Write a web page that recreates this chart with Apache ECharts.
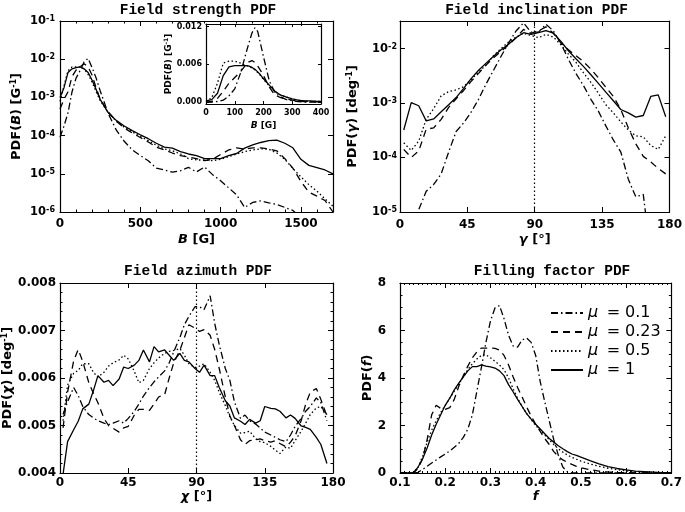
<!DOCTYPE html>
<html><head><meta charset="utf-8">
<script src="https://cdn.jsdelivr.net/npm/echarts@6/dist/echarts.min.js"></script>
<style>html,body{margin:0;padding:0;background:#fff}#c{width:685px;height:512px}</style>
</head><body><div id="c"></div>
<script>
// ---------- legend ----------
const muValues = ['0.1', '0.23', '0.5', '1'];
const legendNames = muValues.map(v => 'μ = ' + v);

// ---------- Panel 1: field strength PDF (log y) ----------
const bField = [0,25,50,75,100,125,150,175,200,225,250,300,350,400,450,500,550,600,650,700,750,800,850,900,950,1000,1050,1100,1150,1200,1250,1300,1350,1400,1450,1500,1550,1600,1650,1700];
const strength01 = [9.1e-5,1.78e-4,4.0e-4,1.41e-3,3.2e-3,5.0e-3,8.5e-3,1.05e-2,6.0e-3,3.2e-3,1.5e-3,3.8e-4,1.41e-4,7.1e-5,4.2e-5,3.0e-5,2.2e-5,1.41e-5,1.26e-5,1.1e-5,1.2e-5,1.48e-5,1.12e-5,1.51e-5,9.5e-6,6.6e-6,4.3e-6,2.8e-6,1.32e-6,1.78e-6,1.95e-6,1.74e-6,1.58e-6,1.32e-6,1.1e-6,7.1e-7,4.0e-7,2.5e-7,1.6e-7,1.0e-7];
const strength023 = [5.0e-4,8.9e-4,1.41e-3,3.5e-3,5.2e-3,6.3e-3,7.6e-3,6.3e-3,3.8e-3,1.78e-3,8.9e-4,4.2e-4,2.4e-4,1.58e-4,1.17e-4,8.9e-5,6.8e-5,5.0e-5,4.2e-5,3.5e-5,3.0e-5,2.75e-5,2.5e-5,2.2e-5,2.4e-5,3.2e-5,4.2e-5,4.8e-5,4.4e-5,4.8e-5,4.8e-5,4.5e-5,4.0e-5,2.5e-5,1.41e-5,6.3e-6,3.3e-6,2.6e-6,2.0e-6,1.0e-6];
const strength05 = [7.9e-4,2.0e-3,5.0e-3,6.3e-3,6.3e-3,6.3e-3,5.6e-3,4.0e-3,2.5e-3,1.41e-3,8.3e-4,4.0e-4,2.4e-4,1.66e-4,1.26e-4,9.5e-5,7.4e-5,5.6e-5,4.5e-5,4.0e-5,3.3e-5,2.5e-5,2.3e-5,2.3e-5,2.2e-5,2.4e-5,2.8e-5,3.3e-5,3.8e-5,4.2e-5,4.5e-5,4.4e-5,3.5e-5,2.4e-5,1.38e-5,8.3e-6,5.2e-6,3.5e-6,2.2e-6,1.41e-6];
const strength1 = [1.0e-3,1.8e-3,4.5e-3,5.6e-3,6.0e-3,6.3e-3,5.6e-3,4.5e-3,2.8e-3,1.6e-3,8.9e-4,4.0e-4,2.5e-4,1.78e-4,1.35e-4,1.05e-4,8.3e-5,6.3e-5,5.0e-5,4.7e-5,3.8e-5,3.3e-5,3.0e-5,2.5e-5,2.5e-5,2.5e-5,3.0e-5,3.4e-5,4.7e-5,5.75e-5,6.6e-5,7.4e-5,7.6e-5,6.3e-5,4.8e-5,2.4e-5,1.66e-5,1.45e-5,1.26e-5,1.0e-5];

// ---------- Inset: field strength PDF (linear) ----------
const bInset = [0,20,40,60,80,100,120,140,150,160,170,180,190,200,220,240,260,280,300,320,340,360,380,400];
const inset01 = [0,0,0.0001,0.0003,0.001,0.0021,0.0046,0.0079,0.0095,0.011,0.0118,0.0112,0.0092,0.0072,0.0034,0.0015,0.0008,0.0004,0.0002,0.0001,0,0,0,0];
const inset023 = [0,0.0001,0.0006,0.0017,0.003,0.0039,0.0048,0.006,0.0064,0.0066,0.0063,0.0057,0.005,0.0042,0.0024,0.0011,0.0007,0.0005,0.0003,0.0002,0.0001,0.0001,0.0001,0];
const inset05 = [0.0001,0.0007,0.003,0.0062,0.0065,0.0065,0.0062,0.0058,0.0057,0.0054,0.0051,0.0047,0.0042,0.0036,0.0026,0.0017,0.0011,0.0008,0.0005,0.0003,0.0002,0.0001,0.0001,0.0001];
const inset1 = [0.0002,0.0004,0.0014,0.0042,0.0056,0.0058,0.0058,0.0058,0.0057,0.0055,0.0052,0.0048,0.0043,0.0037,0.0027,0.0017,0.0011,0.0008,0.0005,0.0003,0.0002,0.0002,0.0001,0.0001];
const insetYTicks = [0, 0.006, 0.012];

// ---------- Panel 2: field inclination PDF (log y) ----------
const gammaDeg = [2.5,7.5,12.5,17.5,22.5,27.5,32.5,37.5,42.5,47.5,52.5,57.5,62.5,67.5,72.5,77.5,82.5,87.5,92.5,97.5,102.5,107.5,112.5,117.5,122.5,127.5,132.5,137.5,142.5,147.5,152.5,157.5,162.5,167.5,172.5,177.5];
const incl01 = [3e-7,2.5e-6,1.1e-5,2.4e-5,3.2e-5,5.0e-5,1.26e-4,3.0e-4,4.3e-4,6.8e-4,1.17e-3,2.24e-3,4.0e-3,7.2e-3,1.26e-2,2.1e-2,2.95e-2,2.0e-2,2.0e-2,2.8e-2,2.1e-2,1.23e-2,6.3e-3,3.5e-3,2.1e-3,1.17e-3,7.1e-4,3.8e-4,2.1e-4,1.26e-4,4.0e-5,1.9e-5,2.1e-5,1.6e-6,3e-7,1e-7];
const incl023 = [1.41e-4,1.0e-4,1.32e-4,3.3e-4,3.5e-4,5.0e-4,8.3e-4,1.2e-3,1.7e-3,2.5e-3,3.5e-3,5.0e-3,6.8e-3,8.9e-3,1.17e-2,1.58e-2,2.24e-2,1.9e-2,2.1e-2,2.5e-2,1.9e-2,1.26e-2,9.5e-3,7.4e-3,5.75e-3,4.2e-3,2.9e-3,1.95e-3,1.32e-3,7.6e-4,3.5e-4,1.78e-4,1.05e-4,8.3e-5,6.3e-5,5.0e-5];
const incl05 = [1.86e-4,1.35e-4,2.0e-4,5.0e-4,7.9e-4,1.35e-3,1.62e-3,1.74e-3,2.0e-3,2.7e-3,3.7e-3,5.0e-3,7.4e-3,1.0e-2,1.32e-2,1.62e-2,1.9e-2,1.74e-2,1.58e-2,1.82e-2,1.62e-2,1.17e-2,7.9e-3,5.6e-3,3.6e-3,2.4e-3,1.51e-3,9.3e-4,6.6e-4,4.5e-4,3.2e-4,2.5e-4,2.4e-4,1.66e-4,1.41e-4,2.5e-4];
const incl1 = [3.2e-4,1.02e-3,8.9e-4,4.7e-4,5.1e-4,6.9e-4,9.3e-4,1.26e-3,1.86e-3,2.8e-3,4.0e-3,5.4e-3,7.2e-3,9.5e-3,1.2e-2,1.58e-2,1.95e-2,1.82e-2,1.95e-2,2.14e-2,1.91e-2,1.35e-2,9.1e-3,6.5e-3,4.7e-3,3.3e-3,2.3e-3,1.58e-3,1.1e-3,7.6e-4,6.6e-4,5.5e-4,5.9e-4,1.32e-3,1.41e-3,5.6e-4];

// ---------- Panel 3: field azimuth PDF ----------
const chiDeg = [2,5,9,12,15,19,22,25,29,32,35,39,42,45,49,52,55,59,62,65,69,72,75,79,82,85,89,92,95,99,102,105,109,112,115,119,122,125,129,132,135,139,142,145,149,152,155,159,162,165,169,172,176];
const azim01 = [0.00523,0.0055,0.0058,0.00563,0.0054,0.00523,0.00516,0.0051,0.00505,0.00502,0.00505,0.0051,0.00505,0.00515,0.0053,0.00545,0.00562,0.0058,0.00592,0.00602,0.00615,0.00632,0.00655,0.00685,0.00712,0.0073,0.0075,0.0075,0.00744,0.00773,0.00715,0.0067,0.0062,0.00595,0.0055,0.00515,0.00522,0.0051,0.00503,0.00495,0.00486,0.0048,0.00475,0.0047,0.00466,0.0048,0.00498,0.00515,0.0053,0.0054,0.00558,0.00548,0.0051];
const azim023 = [0.00495,0.0057,0.00636,0.0066,0.00635,0.0059,0.00568,0.00548,0.00515,0.005,0.00494,0.00486,0.00495,0.00498,0.00522,0.00534,0.00534,0.00532,0.00545,0.0056,0.00565,0.006,0.00632,0.00658,0.00685,0.00712,0.00705,0.00698,0.00702,0.0069,0.0066,0.0062,0.0056,0.0052,0.005,0.0047,0.0046,0.00468,0.0047,0.00472,0.00468,0.00465,0.00468,0.00462,0.00455,0.00465,0.00478,0.0051,0.00545,0.0057,0.00578,0.00555,0.0052];
const azim05 = [0.0051,0.00585,0.0061,0.00616,0.0063,0.0063,0.00612,0.00602,0.00612,0.00625,0.00632,0.00638,0.00648,0.0064,0.00614,0.0059,0.00595,0.0062,0.00632,0.00642,0.00652,0.00656,0.00658,0.00662,0.00648,0.0063,0.00622,0.00625,0.0063,0.00612,0.00595,0.0057,0.00542,0.00518,0.005,0.00484,0.00485,0.00488,0.00472,0.00466,0.00464,0.00456,0.00448,0.00441,0.00455,0.00452,0.00468,0.00488,0.00505,0.00523,0.00537,0.0054,0.00523];
const azim1 = [0.00397,0.00466,0.00491,0.00509,0.00535,0.00545,0.00573,0.00605,0.00591,0.00595,0.00584,0.00598,0.00623,0.0062,0.00627,0.00637,0.00659,0.00634,0.00666,0.00655,0.00659,0.00648,0.00637,0.00652,0.00637,0.00634,0.0062,0.00612,0.00627,0.00605,0.00605,0.0058,0.00552,0.00541,0.00516,0.00509,0.00502,0.00513,0.00505,0.0051,0.0054,0.00536,0.00535,0.0053,0.00516,0.00522,0.00515,0.00499,0.00496,0.00492,0.00475,0.0046,0.0042];

// ---------- Panel 4: filling factor PDF ----------
const fillF = [0.10,0.12,0.13,0.14,0.15,0.16,0.17,0.18,0.19,0.20,0.21,0.22,0.23,0.24,0.25,0.26,0.27,0.28,0.29,0.30,0.31,0.32,0.33,0.34,0.35,0.36,0.37,0.38,0.39,0.40,0.41,0.42,0.43,0.44,0.45,0.46,0.47,0.48,0.49,0.50,0.52,0.54,0.56,0.58,0.60,0.62,0.64,0.66,0.68,0.70];
const fill01 = [0,0,0,0.03,0.15,0.28,0.42,0.55,0.68,0.8,0.93,1.08,1.25,1.5,1.85,2.45,3.45,4.45,5.5,6.4,6.95,7.05,6.5,5.8,5.35,5.3,5.6,5.68,5.5,4.95,3.85,3.0,2.2,1.4,0.75,0.25,0.05,0,0,0,0,0,0,0,0,0,0,0,0,0];
const fill023 = [0,0,0,0.2,0.6,1.4,2.45,2.85,2.72,2.68,2.75,3.1,3.65,4.1,4.5,4.85,5.1,5.26,5.26,5.26,5.25,5.18,4.95,4.55,4.05,3.6,3.2,2.78,2.4,2.05,1.75,1.45,1.2,0.9,0.7,0.55,0.45,0.36,0.28,0.22,0.14,0.08,0.04,0.02,0.01,0,0,0,0,0];
const fill05 = [0,0,0.03,0.25,0.7,1.3,1.8,2.2,2.55,2.85,3.15,3.45,3.75,4.05,4.35,4.6,4.8,4.95,4.98,4.85,4.7,4.55,4.35,4.0,3.55,3.15,2.8,2.5,2.25,2.0,1.8,1.6,1.4,1.2,1.02,0.88,0.76,0.66,0.58,0.5,0.38,0.28,0.2,0.14,0.09,0.06,0.04,0.02,0.01,0];
const fill1 = [0,0,0.02,0.25,0.6,1.05,1.6,2.05,2.45,2.85,3.15,3.5,3.78,4.05,4.3,4.48,4.48,4.55,4.5,4.47,4.42,4.3,4.1,3.72,3.42,3.1,2.8,2.5,2.27,2.05,1.85,1.65,1.45,1.3,1.15,1.02,0.9,0.8,0.74,0.67,0.52,0.38,0.27,0.19,0.13,0.08,0.06,0.04,0.02,0.01];

// ---------- styles ----------
const FONT = 'DejaVu Sans';
const LINE_TYPES = [[7, 3, 1.5, 3], [7, 5], [1.5, 2.5], 'solid'];
const supOf = e => (e < 0 ? '-' : '') + Math.abs(e);
function logFmt(v) {
  const l = Math.log10(v), e = Math.round(l);
  if (Math.abs(l - e) > 1e-6) return '';
  return '{b|10}{s|' + supOf(e) + '}';
}
const logRich = (fs) => ({
  b: {fontFamily: FONT, fontWeight: 'bold', fontSize: fs, color: '#000'},
  s: {fontFamily: FONT, fontWeight: 'bold', fontSize: Math.round(fs * 0.68), color: '#000', verticalAlign: 'top'}
});
const lbl = o => Object.assign({color: '#000', fontFamily: FONT, fontWeight: 'bold', fontSize: 12}, o);
function nameStyle(size) {
  return {
    color: '#000', fontFamily: FONT, fontWeight: 'bold', fontSize: size,
    rich: {
      i: {fontStyle: 'italic', fontWeight: 'bold', fontFamily: FONT, fontSize: size, color: '#000'},
      s: {fontWeight: 'bold', fontFamily: FONT, fontSize: Math.round(size * 0.65), color: '#000', verticalAlign: 'top'}
    }
  };
}
function mkAxis(gi, pos, sc, show, nm) {
  const a = {
    type: sc.type || 'value', gridIndex: gi, position: pos, min: sc.min, max: sc.max,
    axisLine: {show: true, onZero: false, lineStyle: {color: '#000', width: 1.2}},
    axisTick: {show: true, inside: true, length: sc.tickLen || 5, lineStyle: {color: '#000', width: 1}},
    minorTick: {show: !!sc.minor, splitNumber: sc.minor || 5, length: sc.minorLen || 2.5, lineStyle: {color: '#000', width: 1}},
    splitLine: {show: false}, minorSplitLine: {show: false},
    axisLabel: show ? Object.assign({show: true}, sc.label) : {show: false}
  };
  if (sc.interval != null) a.interval = sc.interval;
  if (sc.splitNumber != null) a.splitNumber = sc.splitNumber;
  if (sc.custom) { a.axisTick.customValues = sc.custom; if (show) a.axisLabel.customValues = sc.custom; }
  if (show && nm) {
    a.name = nm.text; a.nameLocation = 'middle'; a.nameGap = nm.gap;
    a.nameTextStyle = nameStyle(nm.size || 13);
  }
  return a;
}
function panelSeries(prefix, xs, ysList, xi, yi, extra) {
  return ysList.map((ys, k) => Object.assign({
    type: 'line', name: prefix ? prefix + k : legendNames[k],
    xAxisIndex: xi, yAxisIndex: yi,
    data: xs.map((x, i) => [x, ys[i]]),
    symbol: 'none', showSymbol: false, silent: true, animation: false, clip: true,
    lineStyle: {color: '#000', width: 1.3, type: LINE_TYPES[k]},
    itemStyle: {color: '#000'}
  }, (k === 3 && extra) ? extra : {}));
}
const vLine90 = {markLine: {silent: true, symbol: 'none', animation: false, label: {show: false},
  lineStyle: {color: '#000', type: [1.5, 2.5], width: 1.2}, data: [{xAxis: 90}]}};

// ---------- scales ----------
const s1x = {min: 0, max: 1700, interval: 500, minor: 5, label: lbl({margin: 6, showMaxLabel: false, formatter: v => String(v)})};
const s1y = {type: 'log', min: 1e-6, max: 0.1, splitNumber: 5, label: lbl({margin: 5, formatter: logFmt, rich: logRich(11.5)})};
const s2x = {min: 0, max: 180, interval: 45, label: lbl({margin: 7})};
const s2y = {type: 'log', min: 1e-5, max: 0.032, splitNumber: 4, label: lbl({margin: 3, formatter: logFmt, rich: logRich(11.5)})};
const s3x = {min: 0, max: 180, interval: 45, label: lbl({margin: 4})};
const s3y = {min: 0.004, max: 0.008, interval: 0.001, minor: 5, label: lbl({margin: 4})};
const s4x = {min: 0.1, max: 0.7, interval: 0.1, minor: 10, minorLen: 2, label: lbl({margin: 4})};
const s4y = {min: 0, max: 8, interval: 2, minor: 4, label: lbl({margin: 14})};
const sIx = {min: 0, max: 400, interval: 100, tickLen: 3, label: lbl({margin: 5, fontSize: 8})};
const sIy = {min: -0.0003, max: 0.0124, custom: insetYTicks, tickLen: 3, label: lbl({margin: 4, fontSize: 8, formatter: v => v.toFixed(3)})};

const titleStyle = (text, x, y) => ({type: 'text', x: x, y: y, silent: true,
  style: {text: text, fill: '#000', fontFamily: 'Liberation Mono', fontSize: 14.5, fontWeight: 'bold',
    align: 'center', verticalAlign: 'middle', textAlign: 'center', textVerticalAlign: 'middle'}});

const option = {
  backgroundColor: '#fff',
  animation: false,
  textStyle: {fontFamily: FONT},
  grid: [
    {left: 60, top: 21, width: 273, height: 191},
    {left: 400, top: 21, width: 273, height: 191},
    {left: 60, top: 283, width: 273, height: 190},
    {left: 400, top: 283, width: 273, height: 190},
    {left: 206, top: 24, width: 115, height: 80}
  ],
  xAxis: [
    mkAxis(0, 'bottom', s1x, true, {text: '{i|B} [G]', gap: 21}),
    mkAxis(0, 'top', s1x, false),
    mkAxis(1, 'bottom', s2x, true, {text: '{i|γ} [°]', gap: 21}),
    mkAxis(1, 'top', s2x, false),
    mkAxis(2, 'bottom', s3x, true, {text: '{i|χ} [°]', gap: 13}),
    mkAxis(2, 'top', s3x, false),
    mkAxis(3, 'bottom', s4x, true, {text: '{i|f}', gap: 14}),
    mkAxis(3, 'top', s4x, false),
    mkAxis(4, 'bottom', sIx, true, {text: '{i|B} [G]', gap: 17, size: 9}),
    mkAxis(4, 'top', sIx, false)
  ],
  yAxis: [
    mkAxis(0, 'left', s1y, true, {text: 'PDF({i|B}) [G{s|-1}]', gap: 37}),
    mkAxis(0, 'right', s1y, false),
    mkAxis(1, 'left', s2y, true, {text: 'PDF({i|γ}) [deg{s|-1}]', gap: 41}),
    mkAxis(1, 'right', s2y, false),
    mkAxis(2, 'left', s3y, true, {text: 'PDF({i|χ}) [deg{s|-1}]', gap: 42}),
    mkAxis(2, 'right', s3y, false),
    mkAxis(3, 'left', s4y, true, {text: 'PDF({i|f})', gap: 21}),
    mkAxis(3, 'right', s4y, false),
    mkAxis(4, 'left', sIy, true, {text: 'PDF({i|B}) [G{s|-1}]', gap: 29, size: 9}),
    mkAxis(4, 'right', sIy, false)
  ],
  legend: {
    data: legendNames, orient: 'vertical', left: 550, top: 305, padding: 0,
    itemWidth: 32, itemHeight: 14, itemGap: 3, selectedMode: false,
    itemStyle: {opacity: 0, borderWidth: 0},
    textStyle: {color: '#000', fontFamily: FONT, fontSize: 16, lineHeight: 14,
      rich: {
        m: {fontStyle: 'italic', fontFamily: FONT, fontSize: 16, width: 16, color: '#000', lineHeight: 14},
        e: {fontFamily: FONT, fontSize: 16, width: 19, align: 'center', color: '#000', lineHeight: 14},
        v: {fontFamily: FONT, fontSize: 16, color: '#000', lineHeight: 14, padding: [0, 0, 0, 2]}
      }},
    formatter: n => '{m|μ}{e|=}{v|' + n.split('= ')[1] + '}'
  },
  graphic: [
    titleStyle('Field strength PDF', 198, 10),
    titleStyle('Field inclination PDF', 536.5, 10),
    titleStyle('Field azimuth PDF', 198, 271),
    titleStyle('Filling factor PDF', 552, 271)
  ],
  series: [].concat(
    panelSeries('strength', bField, [strength01, strength023, strength05, strength1], 0, 0),
    panelSeries('inset', bInset, [inset01, inset023, inset05, inset1], 8, 8),
    panelSeries('incl', gammaDeg, [incl01, incl023, incl05, incl1], 2, 2, vLine90),
    panelSeries('azim', chiDeg, [azim01, azim023, azim05, azim1], 4, 4, vLine90),
    panelSeries(null, fillF, [fill01, fill023, fill05, fill1], 6, 6)
  )
};
const chart = echarts.init(document.getElementById('c'), null, {renderer: 'canvas'});
chart.setOption(option);
</script></body></html>
